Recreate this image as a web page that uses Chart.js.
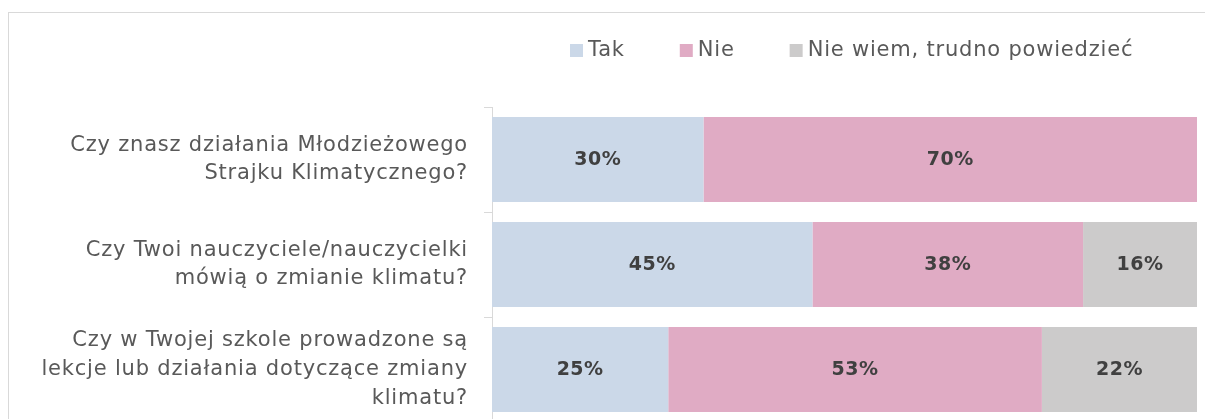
<!DOCTYPE html>
<html>
<head>
<meta charset="utf-8">
<script src="https://cdn.jsdelivr.net/npm/chart.js@4"></script>
<style>
  html, body { margin: 0; padding: 0; background: #fff; overflow: hidden; }
  #wrap { position: relative; width: 1205px; height: 419px; }
  #frame { position: absolute; left: 8px; top: 12px; width: 1300px; height: 500px; border: 1px solid #d9d9d9; }
  #myChart { position: absolute; left: 0; top: 0; }
</style>
</head>
<body>
<div id="wrap">
  <div id="frame"></div>
  <canvas id="myChart" width="1205" height="430"></canvas>
</div>
<script>
// pytania (kategorie)
const questions = [
    ['Czy znasz działania Młodzieżowego', 'Strajku Klimatycznego?'],
    ['Czy Twoi nauczyciele/nauczycielki', 'mówią o zmianie klimatu?'],
    ['Czy w Twojej szkole prowadzone są', 'lekcje lub działania dotyczące zmiany', 'klimatu?']
];

// odpowiedzi w %
const tak = [30, 45, 25];
const nie = [70, 38, 53];
const nieWiem = [0, 16, 22];

const seriesNames = ['Tak', 'Nie', 'Nie wiem, trudno powiedzieć'];
const seriesColors = ['#cbd8e8', '#e0abc4', '#cccbcb'];

const FONT = "'DejaVu Sans', sans-serif";

// 100% stacked, jak w Excelu - kazdy wiersz przeliczony do sumy 100
const raw = [tak, nie, nieWiem];
const totals = questions.map((q, i) => tak[i] + nie[i] + nieWiem[i]);
const shares = raw.map(arr => arr.map((v, i) => v / totals[i] * 100));

const data = {
    labels: questions,
    datasets: raw.map((arr, k) => ({
        label: seriesNames[k],
        data: shares[k],
        raw: arr,
        backgroundColor: seriesColors[k],
        borderWidth: 0,
        categoryPercentage: 0.9,
        barPercentage: 0.9
    }))
};

// troche szerszy tekst (zamiast Century Gothic)
const spacing = {
    id: 'spacing',
    beforeDraw(chart) {
        chart.ctx.letterSpacing = '0.8px';
    }
};

// wartosci na slupkach
const valueLabels = {
    id: 'valueLabels',
    afterDatasetsDraw(chart) {
        const ctx = chart.ctx;
        ctx.save();
        ctx.letterSpacing = '0.5px';
        ctx.font = 'bold 19px ' + FONT;
        ctx.fillStyle = '#404040';
        ctx.textAlign = 'center';
        ctx.textBaseline = 'middle';
        chart.data.datasets.forEach((ds, k) => {
            chart.getDatasetMeta(k).data.forEach((bar, i) => {
                const v = ds.raw[i];
                if (!v) return;
                const x = (bar.x + bar.base) / 2;
                ctx.fillText(v + '%', x, bar.y + 1);
            });
        });
        ctx.restore();
    }
};

// legenda u gory
const topLegend = {
    id: 'topLegend',
    afterDraw(chart) {
        const ctx = chart.ctx;
        ctx.save();
        ctx.letterSpacing = '0.8px';
        ctx.font = '21px ' + FONT;
        ctx.textBaseline = 'middle';
        let x = 570;
        const y = 51;
        chart.data.datasets.forEach(ds => {
            ctx.fillStyle = ds.backgroundColor;
            ctx.fillRect(x, y - 7, 13, 13);
            ctx.fillStyle = '#595959';
            ctx.fillText(ds.label, x + 18, y);
            x += 18 + ctx.measureText(ds.label).width + 55;
        });
        ctx.restore();
    }
};

const config = {
    type: 'bar',
    data: data,
    options: {
        indexAxis: 'y',
        responsive: false,
        animation: false,
        layout: { padding: { top: 107, right: 8, bottom: 8, left: 0 } },
        plugins: {
            legend: { display: false },
            tooltip: { enabled: false }
        },
        scales: {
            x: {
                stacked: true,
                min: 0,
                max: 100,
                display: false
            },
            y: {
                stacked: true,
                afterFit(scale) {
                    scale.width = 492;
                    scale.paddingTop = 0;
                    scale.paddingBottom = 0;
                },
                border: { display: true, color: '#d9d9d9', width: 1 },
                grid: {
                    drawOnChartArea: false,
                    drawTicks: true,
                    tickLength: 8,
                    color: '#d9d9d9'
                },
                ticks: {
                    padding: 16,
                    color: '#595959',
                    font: { family: FONT, size: 21, lineHeight: 1.36 }
                }
            }
        }
    },
    plugins: [spacing, valueLabels, topLegend]
};

const myChart = new Chart(document.getElementById('myChart'), config);
</script>
</body>
</html>
